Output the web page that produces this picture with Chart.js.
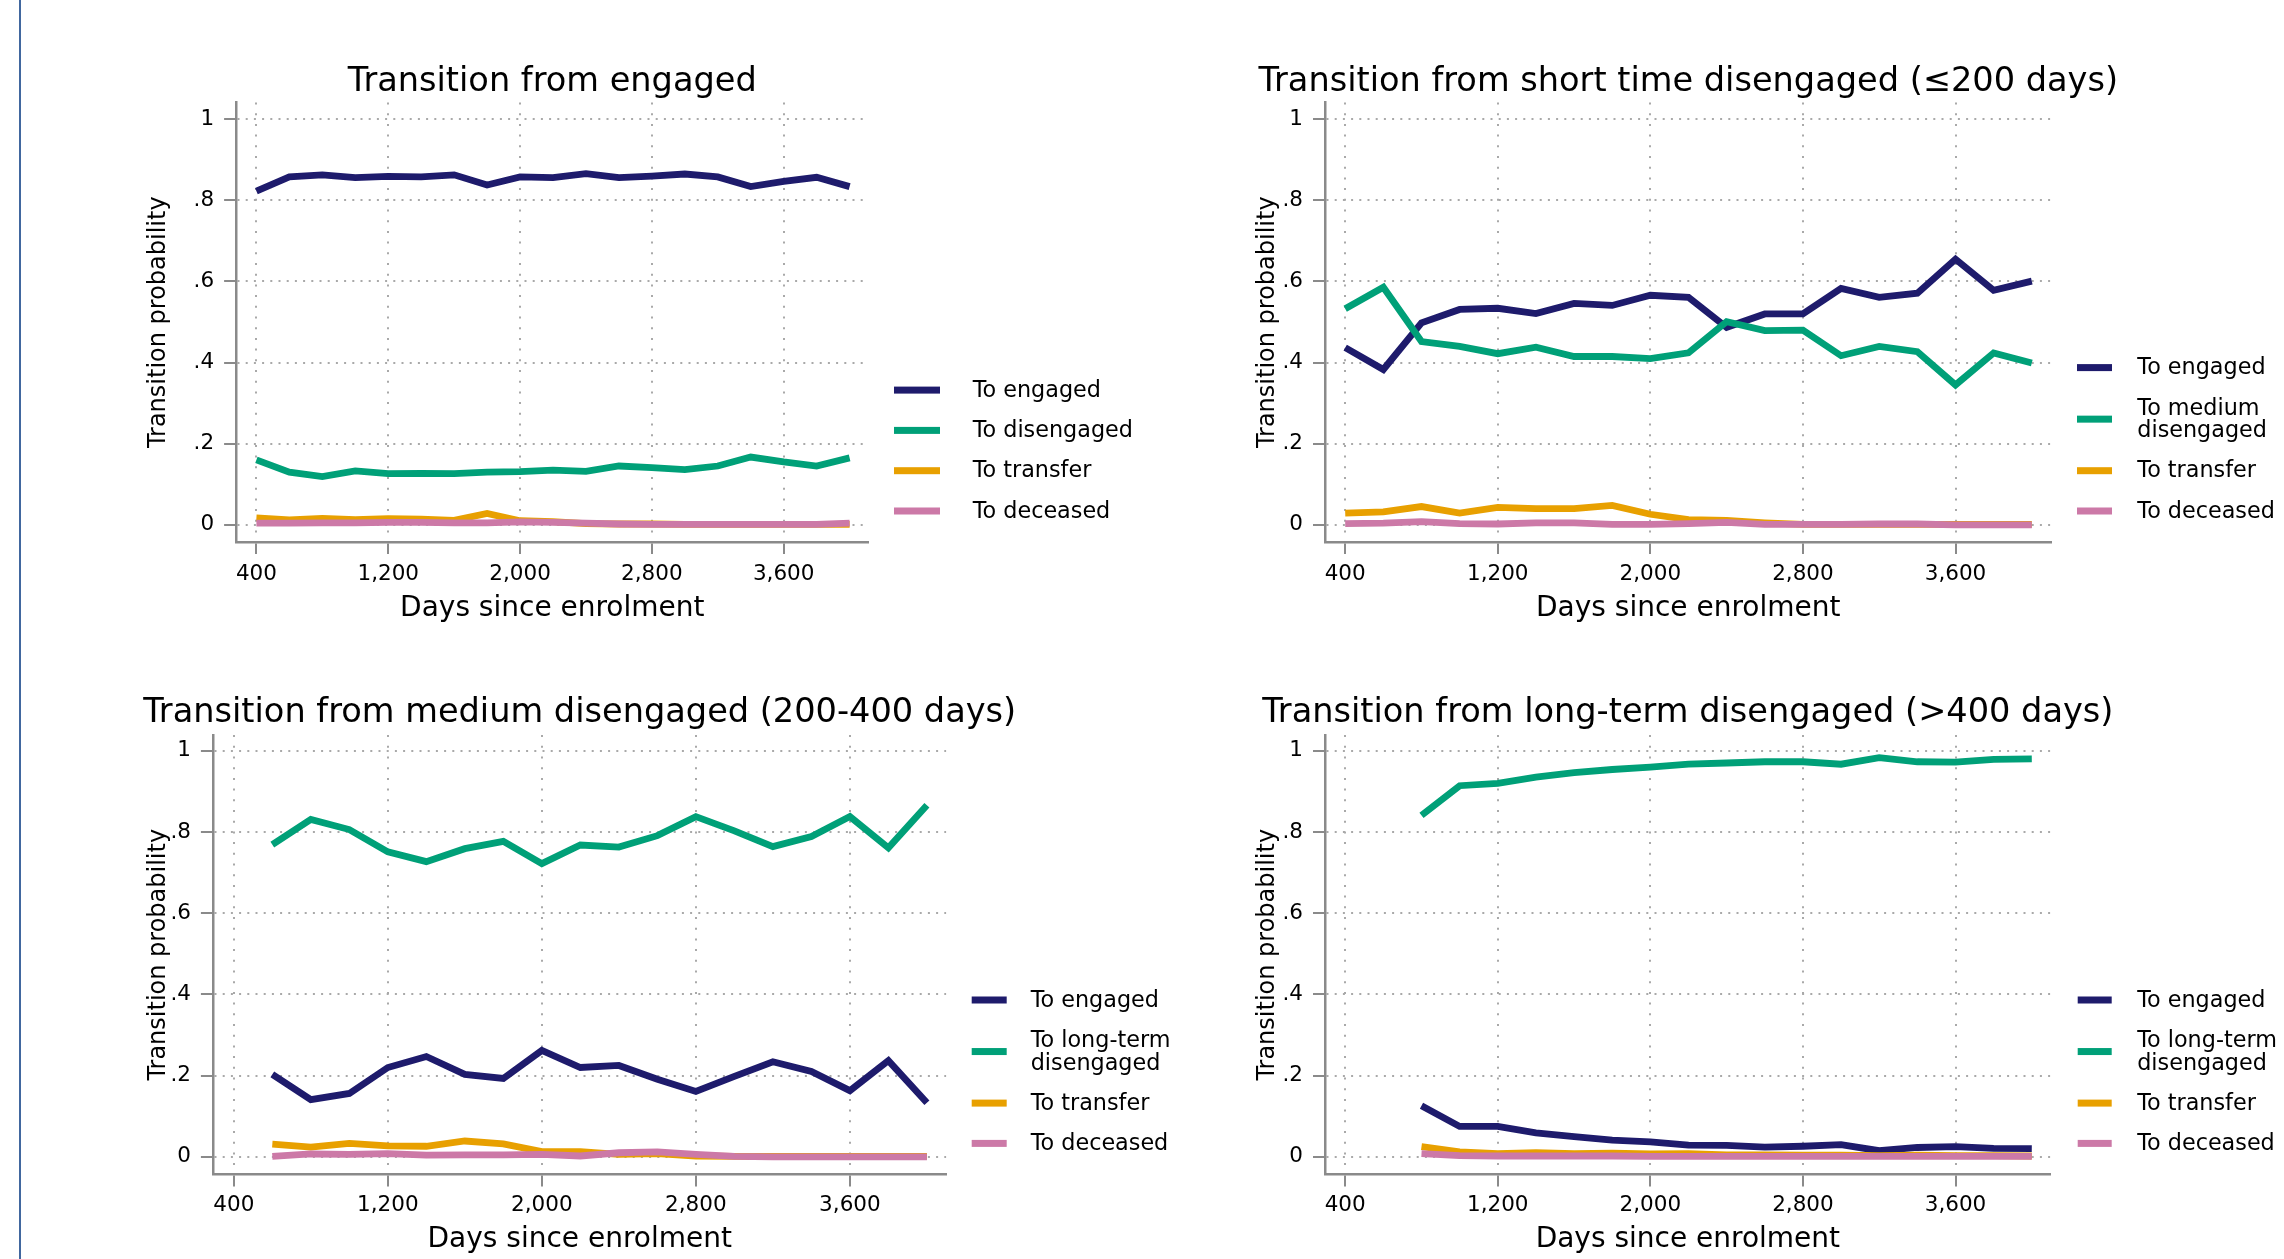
<!DOCTYPE html>
<html>
<head>
<meta charset="utf-8">
<script src="https://cdn.jsdelivr.net/npm/chart.js@4.4.1/dist/chart.umd.min.js"></script>
<style>
  html, body { margin: 0; padding: 0; background: #ffffff; }
  body { width: 2284px; height: 1259px; position: relative; overflow: hidden; }
  canvas { position: absolute; }
  #edge { position: absolute; left: 19px; top: 0; width: 2px; height: 1259px; background: #41679f; }
</style>
</head>
<body>
<div id="edge"></div>
<canvas id="c1" width="1112" height="630" style="left:30px;top:0px;width:1112px;height:630px"></canvas>
<canvas id="c2" width="1142" height="630" style="left:1142px;top:0px;width:1142px;height:630px"></canvas>
<canvas id="c3" width="1230" height="629" style="left:30px;top:630px;width:1230px;height:629px"></canvas>
<canvas id="c4" width="1142" height="629" style="left:1142px;top:630px;width:1142px;height:629px"></canvas>
<script>
// ---------------- DATA ----------------
const daysFrom400 = [400, 600, 800, 1000, 1200, 1400, 1600, 1800, 2000, 2200, 2400, 2600, 2800, 3000, 3200, 3400, 3600, 3800, 4000];
const daysFrom600 = [600, 800, 1000, 1200, 1400, 1600, 1800, 2000, 2200, 2400, 2600, 2800, 3000, 3200, 3400, 3600, 3800, 4000];
const daysFrom800 = [800, 1000, 1200, 1400, 1600, 1800, 2000, 2200, 2400, 2600, 2800, 3000, 3200, 3400, 3600, 3800, 4000];

const xTickValues = [400, 1200, 2000, 2800, 3600];
const xTickLabels = ['400', '1,200', '2,000', '2,800', '3,600'];
const yTickValues = [0, 0.2, 0.4, 0.6, 0.8, 1];
const yTickLabels = ['0', '.2', '.4', '.6', '.8', '1'];

const panelTitles = [
  'Transition from engaged',
  'Transition from short time disengaged (\u2264200 days)',
  'Transition from medium disengaged (200-400 days)',
  'Transition from long-term disengaged (>400 days)'
];
const xAxisTitle = 'Days since enrolment';
const yAxisTitle = 'Transition probability';

const labelsEngaged = ['To engaged', 'To disengaged', 'To transfer', 'To deceased'];
const labelsShort = ['To engaged', 'To medium\ndisengaged', 'To transfer', 'To deceased'];
const labelsMedium = ['To engaged', 'To long-term\ndisengaged', 'To transfer', 'To deceased'];
const labelsLong = ['To engaged', 'To long-term\ndisengaged', 'To transfer', 'To deceased'];

// Panel 1: from engaged
const engToEngaged    = [0.823, 0.858, 0.863, 0.856, 0.859, 0.858, 0.863, 0.838, 0.858, 0.856, 0.866, 0.856, 0.860, 0.865, 0.858, 0.834, 0.847, 0.857, 0.834];
const engToDisengaged = [0.160, 0.130, 0.119, 0.133, 0.126, 0.127, 0.126, 0.130, 0.131, 0.135, 0.132, 0.145, 0.141, 0.136, 0.145, 0.167, 0.155, 0.145, 0.165];
const engToTransfer   = [0.017, 0.012, 0.016, 0.013, 0.015, 0.014, 0.011, 0.028, 0.010, 0.008, 0.003, 0.002, 0.002, 0.001, 0.001, 0.001, 0.001, 0.001, 0.001];
const engToDeceased   = [0.004, 0.004, 0.005, 0.005, 0.006, 0.006, 0.005, 0.005, 0.007, 0.006, 0.004, 0.002, 0.001, 0.001, 0.001, 0.001, 0.001, 0.001, 0.004];

// Panel 2: from short time disengaged
const shortToEngaged  = [0.437, 0.383, 0.498, 0.531, 0.534, 0.521, 0.546, 0.541, 0.566, 0.561, 0.487, 0.520, 0.520, 0.583, 0.561, 0.571, 0.655, 0.578, 0.601];
const shortToMedium   = [0.533, 0.586, 0.452, 0.440, 0.422, 0.438, 0.415, 0.415, 0.410, 0.424, 0.501, 0.479, 0.480, 0.417, 0.440, 0.427, 0.345, 0.424, 0.399];
const shortToTransfer = [0.029, 0.032, 0.045, 0.029, 0.043, 0.040, 0.040, 0.048, 0.026, 0.013, 0.011, 0.005, 0.001, 0.001, 0.001, 0.001, 0.001, 0.001, 0.001];
const shortToDeceased = [0.003, 0.004, 0.008, 0.003, 0.002, 0.005, 0.005, 0.001, 0.001, 0.003, 0.006, 0.001, 0.001, 0.001, 0.002, 0.002, 0.000, 0.000, 0.000];

// Panel 3: from medium disengaged
const medToEngaged  = [0.203, 0.141, 0.156, 0.220, 0.247, 0.203, 0.193, 0.262, 0.220, 0.225, 0.191, 0.161, 0.198, 0.234, 0.210, 0.163, 0.237, 0.133];
const medToLong     = [0.769, 0.831, 0.806, 0.751, 0.727, 0.759, 0.777, 0.722, 0.768, 0.763, 0.791, 0.838, 0.803, 0.764, 0.789, 0.838, 0.761, 0.866];
const medToTransfer = [0.031, 0.024, 0.033, 0.027, 0.026, 0.039, 0.032, 0.013, 0.013, 0.006, 0.008, 0.002, 0.001, 0.001, 0.001, 0.001, 0.001, 0.001];
const medToDeceased = [0.001, 0.007, 0.006, 0.008, 0.004, 0.005, 0.005, 0.006, 0.002, 0.010, 0.012, 0.006, 0.001, 0.000, 0.000, 0.000, 0.000, 0.000];

// Panel 4: from long-term disengaged
const longToEngaged  = [0.126, 0.075, 0.075, 0.059, 0.050, 0.041, 0.037, 0.029, 0.028, 0.024, 0.026, 0.030, 0.015, 0.023, 0.025, 0.021, 0.020];
const longToLong     = [0.841, 0.914, 0.920, 0.935, 0.946, 0.954, 0.960, 0.967, 0.970, 0.973, 0.973, 0.967, 0.983, 0.973, 0.972, 0.979, 0.980];
const longToTransfer = [0.025, 0.012, 0.008, 0.010, 0.008, 0.009, 0.007, 0.008, 0.005, 0.005, 0.004, 0.004, 0.003, 0.004, 0.003, 0.003, 0.002];
const longToDeceased = [0.008, 0.003, 0.002, 0.002, 0.002, 0.002, 0.001, 0.001, 0.001, 0.001, 0.001, 0.001, 0.001, 0.001, 0.001, 0.001, 0.001];

// ---------------- STYLE ----------------
const seriesColors = ['#1e1b6c', '#00a078', '#e8a000', '#cc79a7'];
const FONT = '"DejaVu Sans", "Liberation Sans", Arial, sans-serif';
const AXIS_GRAY = '#8a8a8a';
const GRID_GRAY = '#a9a9a9';

// panel title centred over the plot region, and legend drawn to its right
const panelDecor = {
  id: 'panelDecor',
  afterDraw(chart, args, o) {
    const {ctx, chartArea} = chart;
    ctx.save();
    // title
    ctx.font = o.titleSize + 'px ' + FONT;
    ctx.fillStyle = '#000000';
    ctx.textAlign = 'center';
    ctx.textBaseline = 'middle';
    ctx.fillText(o.title, (chartArea.left + chartArea.right) / 2, o.titleY);
    // legend
    const items = chart.data.datasets.map(ds => ({lines: String(ds.label).split('\n'), color: ds.borderColor}));
    let pos = 0;
    const layout = items.map(it => {
      const ys = it.lines.map((_, k) => pos + k * o.linePitch);
      pos = ys[ys.length - 1] + o.rowPitch;
      return ys;
    });
    const lastLine = layout[layout.length - 1];
    const shift = chartArea.bottom + o.lastOffset - lastLine[lastLine.length - 1];
    ctx.font = o.fontSize + 'px ' + FONT;
    ctx.textAlign = 'left';
    items.forEach((it, i) => {
      const ys = layout[i].map(y => y + shift);
      const cy = (ys[0] + ys[ys.length - 1]) / 2;
      ctx.fillStyle = it.color;
      ctx.fillRect(chartArea.right + o.sampleOffset, cy - o.thickness / 2 - 1, o.sampleLen, o.thickness);
      ctx.fillStyle = '#000000';
      it.lines.forEach((t, k) => ctx.fillText(t, chartArea.right + o.textOffset, ys[k]));
    });
    ctx.restore();
  }
};

function makePanel(id, cfg) {
  const datasets = cfg.values.map((vals, i) => ({
    label: cfg.labels[i],
    data: cfg.days.map((d, j) => ({x: d, y: vals[j]})),
    borderColor: seriesColors[i],
    backgroundColor: seriesColors[i],
    borderWidth: 6.8,
    pointRadius: 0,
    pointHoverRadius: 0,
    fill: false,
    tension: 0,
    order: cfg.values.length - i
  }));
  return new Chart(document.getElementById(id), {
    type: 'line',
    data: {datasets},
    plugins: [panelDecor],
    options: {
      responsive: false,
      animation: false,
      devicePixelRatio: 1,
      events: [],
      layout: {padding: {left: 0, top: cfg.padTop, bottom: 0, right: cfg.padRight}},
      plugins: {
        legend: {display: false},
        tooltip: {enabled: false},
        title: {display: false},
        panelDecor: cfg.decor
      },
      scales: {
        x: {
          type: 'linear',
          min: cfg.xMin,
          max: cfg.xMax,
          afterBuildTicks: s => { s.ticks = xTickValues.map(v => ({value: v})); },
          afterFit: s => { s.height = cfg.xAxisHeight; },
          ticks: {
            autoSkip: false, maxRotation: 0, minRotation: 0,
            padding: cfg.xTickPad,
            color: '#000000',
            font: {family: FONT, size: 21.5},
            callback: v => xTickLabels[xTickValues.indexOf(v)]
          },
          grid: {
            color: GRID_GRAY, lineWidth: 2,
            drawTicks: true, tickLength: 12, tickColor: AXIS_GRAY, tickWidth: 2, tickBorderDash: []
          },
          border: {display: true, color: AXIS_GRAY, width: 2.5, dash: [2, 8.7]},
          title: {
            display: true, text: xAxisTitle, color: '#000000',
            font: {family: FONT, size: 28},
            padding: {top: 0, bottom: cfg.xTitleBottom}
          }
        },
        y: {
          type: 'linear',
          min: cfg.yMin,
          max: cfg.yMax,
          afterBuildTicks: s => { s.ticks = yTickValues.map(v => ({value: v})); },
          afterFit: s => { s.width = cfg.yAxisWidth; },
          ticks: {
            autoSkip: false,
            padding: 10,
            color: '#000000',
            font: {family: FONT, size: 21.5},
            callback: v => yTickLabels[yTickValues.indexOf(v)]
          },
          grid: {
            color: GRID_GRAY, lineWidth: 2,
            drawTicks: true, tickLength: 12.5, tickColor: AXIS_GRAY, tickWidth: 2, tickBorderDash: []
          },
          border: {display: true, color: AXIS_GRAY, width: 2.5, dash: [2, 6.2]},
          title: {
            display: true, text: yAxisTitle, color: '#000000',
            font: {family: FONT, size: 24},
            padding: {top: cfg.yTitleTop, bottom: 0}
          }
        }
      }
    }
  });
}

const decorBase = {titleSize: 33.6, rowPitch: 40.3, linePitch: 22.5, thickness: 7, fontSize: 22.3};

makePanel('c1', {
  days: daysFrom400, labels: labelsEngaged,
  values: [engToEngaged, engToDisengaged, engToTransfer, engToDeceased],
  xMin: 279.8, xMax: 4111.6, yMin: -0.0424, yMax: 1.0414,
  padTop: 102.5, padRight: 274, yAxisWidth: 206.6, xAxisHeight: 88,
  xTickPad: 7.5, yTitleTop: 114.4, xTitleBottom: 4.2,
  decor: Object.assign({}, decorBase, {title: panelTitles[0], titleY: 82, sampleOffset: 26, sampleLen: 46, textOffset: 104.7, lastOffset: -30})
});
makePanel('c2', {
  days: daysFrom400, labels: labelsShort,
  values: [shortToEngaged, shortToMedium, shortToTransfer, shortToDeceased],
  xMin: 296.7, xMax: 4100.7, yMin: -0.0424, yMax: 1.0414,
  padTop: 102.5, padRight: 233, yAxisWidth: 183.5, xAxisHeight: 88,
  xTickPad: 7.5, yTitleTop: 110.9, xTitleBottom: 4.2,
  decor: Object.assign({}, decorBase, {title: panelTitles[1], titleY: 82, sampleOffset: 26, sampleLen: 35, textOffset: 86.3, lastOffset: -30})
});
makePanel('c3', {
  days: daysFrom600, labels: labelsMedium,
  values: [medToEngaged, medToLong, medToTransfer, medToDeceased],
  xMin: 294, xMax: 4099.7, yMin: -0.0433, yMax: 1.0387,
  padTop: 105.1, padRight: 313.9, yAxisWidth: 183.4, xAxisHeight: 84.6,
  xTickPad: 6.5, yTitleTop: 114.7, xTitleBottom: 2,
  decor: Object.assign({}, decorBase, {title: panelTitles[2], titleY: 83, sampleOffset: 25.6, sampleLen: 35, textOffset: 84.6, lastOffset: -30})
});
makePanel('c4', {
  days: daysFrom800, labels: labelsLong,
  values: [longToEngaged, longToLong, longToTransfer, longToDeceased],
  xMin: 296.7, xMax: 4096.5, yMin: -0.0433, yMax: 1.0387,
  padTop: 105.1, padRight: 233.8, yAxisWidth: 183.5, xAxisHeight: 84.6,
  xTickPad: 6.5, yTitleTop: 110.9, xTitleBottom: 2,
  decor: Object.assign({}, decorBase, {title: panelTitles[3], titleY: 83, sampleOffset: 27.5, sampleLen: 34, textOffset: 87, lastOffset: -30})
});
</script>
</body>
</html>
